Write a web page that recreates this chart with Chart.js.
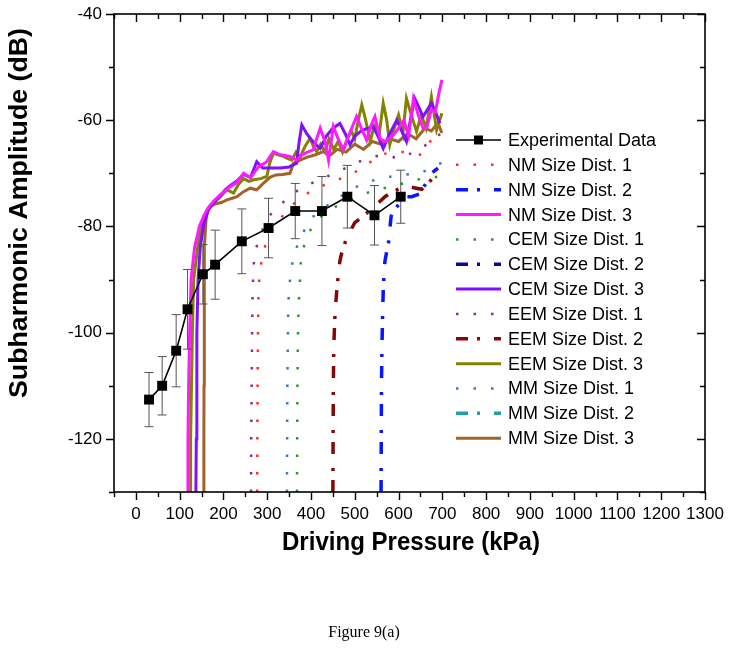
<!DOCTYPE html>
<html>
<head>
<meta charset="utf-8">
<script src="https://cdn.jsdelivr.net/npm/chart.js@4.4.0/dist/chart.umd.min.js"></script>
<style>
html, body { margin: 0; padding: 0; background: #fff; }
#wrap { width: 729px; height: 656px; }
</style>
</head>
<body>
<div id="wrap"><canvas id="chart" width="729" height="656"></canvas></div>
<script>
// tick labels
const xTicks = [0, 100, 200, 300, 400, 500, 600, 700, 800, 900, 1000, 1100, 1200, 1300];
const yTicks = [-120, -100, -80, -60, -40];

// experimental data (kPa, dB, +/- dB)
const expP = [30, 60, 92, 118, 153, 181, 242, 303, 364, 425, 483, 545, 605];
const expA = [-112.6, -110.0, -103.4, -95.6, -89.0, -87.2, -82.8, -80.3, -77.1, -77.1, -74.4, -77.9, -74.4];
const expErr = [5.1, 5.5, 6.8, 7.5, 5.6, 6.5, 6.1, 5.6, 5.2, 6.5, 5.9, 5.6, 5.0];

// simulations
const nm1P = [277, 277.5, 278, 279, 280, 282, 288, 299, 310, 322, 340, 356, 375, 398, 420, 440, 460, 482, 500, 520, 540, 557, 575, 592, 610, 630, 652, 672, 690, 700];
const nm1A = [-130, -120, -110, -100, -93, -89.4, -86, -82.5, -81, -79.4, -77.5, -76, -74.8, -73.4, -72.6, -71.8, -71.2, -70.6, -69.8, -68.8, -67.6, -66.5, -66.2, -65.9, -66, -66.3, -66.5, -64, -63, -62.5];

const nm2P = [560, 560.5, 561, 562, 563.5, 565, 567, 569, 573, 577, 580, 583, 588, 596, 603, 609, 630, 647, 668, 673, 690];
const nm2A = [-130, -120, -110, -103, -97, -92, -88.5, -86.5, -84.7, -83.1, -80.5, -78.1, -77.2, -76.3, -75.6, -74.4, -74.4, -73.9, -71.2, -70.1, -69];

const nm3P = [118, 119, 120.5, 122.8, 126, 134, 145, 155, 165, 178, 193, 208, 216, 230, 246, 262, 280, 299, 314, 330, 352, 367, 380, 392, 405, 413, 421, 432, 440, 451, 462, 474, 488, 504, 515, 527, 537, 546, 558, 570, 588, 600, 612, 623, 634, 645, 656, 664, 675, 684, 692, 699];
const nm3A = [-130, -120, -110, -100, -90, -84, -80, -78, -76.5, -75.2, -74, -73, -72.5, -71.8, -70, -70.8, -68.8, -67.8, -65.9, -66.5, -66.8, -67.5, -66.5, -66, -65.6, -63.5, -61.5, -64, -67.5, -61.2, -63.5, -65.6, -62.5, -59.3, -61.5, -63.7, -61, -59.3, -63.5, -64, -62.8, -61.5, -60, -63, -55.9, -59, -61.5, -61.5, -58, -58.5, -55, -52.4];

const cem1P = [368, 368.5, 369, 370, 371, 373, 375, 377, 381, 387, 396, 408, 425, 447, 470, 490, 510, 531, 550, 571, 590, 611, 632, 653, 675, 694];
const cem1A = [-130, -120, -110, -102, -97, -93, -89.7, -86.3, -84.5, -83, -81, -79.6, -78, -76.7, -75.7, -75, -74.3, -73.6, -73.1, -72.7, -72.3, -71.9, -71.4, -71, -70.8, -70.6];

const cem2P = [];
const cem2A = [];

const cem3P = [137, 138, 139, 139.5, 142, 147, 155, 165, 175, 190, 205, 216, 230, 246, 262, 276, 290, 300, 315, 330, 350, 367, 373, 379, 390, 398, 410, 421, 435, 450, 466, 478, 489, 500, 515, 530, 542, 553, 565, 580, 596, 607, 618, 627, 637, 646, 656, 666, 675, 685, 694];
const cem3A = [-130, -120, -110, -100, -90, -84, -79.5, -77, -75.8, -74.5, -73, -72.3, -71.5, -70.2, -70.8, -67.8, -69, -69, -69, -69, -68.8, -68.1, -64, -60.9, -62.5, -63.4, -64.5, -65.3, -63, -61.5, -60.6, -62.5, -64.6, -63, -62, -61.5, -61.2, -63, -65.3, -62.5, -60, -62, -64, -60, -55.9, -57.5, -59.3, -58, -56.8, -58.5, -60.6];

const eem1P = [263, 263.5, 264.5, 265.5, 266.5, 268, 270, 275, 280, 292, 305, 318, 330, 350, 371, 390, 409, 432, 451, 480, 500, 523, 540, 561, 580, 603, 620, 641, 660, 683, 698];
const eem1A = [-130, -120, -110, -100, -93, -89.5, -86, -84, -82.7, -80, -78, -76.8, -75.9, -74.5, -73.1, -72.3, -71.6, -70.8, -70, -69, -68, -67.5, -67, -66.5, -66.8, -67.2, -66.5, -65.9, -64.8, -63.2, -62.5];

const eem2P = [450, 450.5, 451, 452, 454, 456, 459, 462, 466, 470, 480, 490, 500, 520, 542, 556, 569, 590, 618, 635, 653, 675, 690];
const eem2A = [-130, -120, -110, -103, -98, -95, -92, -89.4, -86.5, -85, -82.5, -80.8, -79.3, -78, -76.5, -75.4, -74.4, -73.3, -72.4, -72.7, -73, -71.2, -70];

const eem3P = [124, 125, 127, 129, 132, 141, 150, 161, 166, 177, 193, 208, 223, 235, 246, 258, 269, 285, 299, 306, 314, 325, 337, 346, 356, 366, 375, 386, 398, 406, 413, 422, 432, 441, 452, 462, 472, 482, 492, 500, 508, 516, 525, 535, 545, 556, 565, 573, 580, 590, 600, 610, 618, 629, 641, 652, 663, 675, 687, 699];
const eem3A = [-130, -120, -110, -100, -90, -84, -80, -78, -76.6, -75.6, -74.4, -73.1, -73.7, -72, -71, -71.5, -71.2, -71, -70.6, -68, -66.2, -66.5, -66.8, -67.2, -67.5, -66, -67, -65, -63.4, -65, -65.9, -64.5, -66, -63.5, -65.5, -64, -66, -63.7, -62, -63.5, -60, -57.1, -60, -64, -61, -62.5, -56.8, -60, -64.6, -61.5, -59, -62.5, -55.9, -59, -62.1, -59, -61.5, -55.6, -61.8, -58.7];

const mm1P = [345, 345.5, 346, 347, 348, 350, 354, 362, 372, 379, 390, 403, 420, 444, 465, 485, 505, 527, 548, 569, 590, 610, 630, 649, 670, 690, 700];
const mm1A = [-130, -120, -110, -102, -95, -91.8, -88.4, -85, -83, -81.6, -80, -78.3, -77, -75.7, -74.5, -73.4, -72.5, -71.7, -71.2, -70.8, -70.5, -70.3, -70.1, -70, -69.2, -68.3, -68];

const mm2P = [];
const mm2A = [];

const mm3P = [155, 155.3, 155.6, 155.8, 156, 157, 160, 163, 168, 180, 195, 208, 220, 231, 245, 261, 276, 291, 307, 320, 335, 352, 360, 375, 390, 410, 428, 445, 460, 480, 500, 520, 540, 560, 580, 600, 620, 640, 660, 675, 690, 699];
const mm3A = [-130, -120, -110, -100, -90, -84, -79, -77, -76.3, -75.8, -75.5, -75, -74.7, -74.4, -73.5, -72.8, -73.1, -71.9, -70.7, -70.3, -70.2, -70, -68.1, -67.5, -67, -66.5, -65.9, -66.5, -65.5, -66, -64.5, -65.5, -64, -64.5, -63.5, -64, -62.5, -63.5, -61.5, -62, -60.5, -62.4];

const SANS = "'Liberation Sans', Arial, sans-serif";
const DOT = [2.5, 15];
const DASHDOT = [12, 9, 3, 14];

function pts(xs, ys) {
    return xs.map((x, i) => ({ x: x, y: ys[i] }));
}

function sim(label, xs, ys, color, dash, width) {
    return {
        label: label,
        data: pts(xs, ys),
        borderColor: color,
        backgroundColor: color,
        borderWidth: width,
        borderDash: dash,
        pointRadius: 0,
        tension: 0,
        fill: false
    };
}

const datasets = [
    {
        label: 'Experimental Data',
        data: pts(expP, expA),
        borderColor: '#000',
        backgroundColor: '#000',
        borderWidth: 1.6,
        borderDash: [],
        pointStyle: 'rect',
        pointRadius: 7,
        pointBorderWidth: 0,
        tension: 0,
        fill: false
    },
    sim('NM Size Dist. 1', nm1P, nm1A, '#ff2a2a', DOT, 2.5),
    sim('NM Size Dist. 2', nm2P, nm2A, '#0a14ff', DASHDOT, 3.5),
    sim('NM Size Dist. 3', nm3P, nm3A, '#ff1aff', [], 3),
    sim('CEM Size Dist. 1', cem1P, cem1A, '#259a25', DOT, 2.5),
    sim('CEM Size Dist. 2', cem2P, cem2A, '#0a0a8c', DASHDOT, 3.5),
    sim('CEM Size Dist. 3', cem3P, cem3A, '#8010ff', [], 3),
    sim('EEM Size Dist. 1', eem1P, eem1A, '#8e2a98', DOT, 2.5),
    sim('EEM Size Dist. 2', eem2P, eem2A, '#850808', DASHDOT, 3.5),
    sim('EEM Size Dist. 3', eem3P, eem3A, '#848200', [], 3),
    sim('MM Size Dist. 1', mm1P, mm1A, '#3c78c0', DOT, 2.5),
    sim('MM Size Dist. 2', mm2P, mm2A, '#20a0a0', DASHDOT, 3.5),
    sim('MM Size Dist. 3', mm3P, mm3A, '#a0642a', [], 3)
];

function fitText(ctx, text, x, y, w, rot) {
    ctx.save();
    ctx.translate(x, y);
    if (rot) ctx.rotate(rot);
    const m = ctx.measureText(text).width;
    ctx.scale(w / m, 1);
    ctx.fillText(text, 0, 0);
    ctx.restore();
}

// error bars, drawn just under the experimental line
const errorBars = {
    id: 'errorBars',
    beforeDatasetDraw(chart, args) {
        if (args.index !== 0) return;
        const ctx = chart.ctx, xs = chart.scales.x, ys = chart.scales.y;
        ctx.save();
        ctx.strokeStyle = '#555';
        ctx.lineWidth = 1;
        expP.forEach((p, i) => {
            const px = xs.getPixelForValue(p);
            const y1 = ys.getPixelForValue(expA[i] + expErr[i]);
            const y2 = ys.getPixelForValue(expA[i] - expErr[i]);
            ctx.beginPath();
            ctx.moveTo(px, y1); ctx.lineTo(px, y2);
            ctx.moveTo(px - 4.5, y1); ctx.lineTo(px + 4.5, y1);
            ctx.moveTo(px - 4.5, y2); ctx.lineTo(px + 4.5, y2);
            ctx.stroke();
        });
        ctx.restore();
    }
};

// white page, frame with ticks, titles, legend and caption
const decor = {
    id: 'decor',
    beforeDraw(chart) {
        const ctx = chart.ctx;
        ctx.save();
        ctx.fillStyle = '#fff';
        ctx.fillRect(0, 0, chart.width, chart.height);
        ctx.restore();
    },
    afterDraw(chart) {
        const ctx = chart.ctx, xs = chart.scales.x, ys = chart.scales.y;
        const { left, right, top, bottom } = chart.chartArea;
        ctx.save();
        ctx.strokeStyle = '#000';
        ctx.lineWidth = 1.6;
        ctx.strokeRect(left, top, right - left, bottom - top);

        ctx.lineWidth = 1.4;
        ctx.beginPath();
        for (let v = -50; v <= 1300; v += 50) {
            const px = Math.round(xs.getPixelForValue(v)) + 0.5;
            const len = v % 100 === 0 ? 8 : 5;
            ctx.moveTo(px, bottom); ctx.lineTo(px, bottom + len);
            ctx.moveTo(px, top); ctx.lineTo(px, top + len);
        }
        for (let v = -130; v <= -40; v += 10) {
            const py = Math.round(ys.getPixelForValue(v)) + 0.5;
            const len = v % 20 === 0 ? 8 : 5;
            ctx.moveTo(left, py); ctx.lineTo(left - len, py);
            ctx.moveTo(right, py); ctx.lineTo(right - len, py);
        }
        ctx.stroke();

        // axis titles
        ctx.fillStyle = '#000';
        ctx.textAlign = 'center';
        ctx.textBaseline = 'middle';
        ctx.font = 'bold 25px ' + SANS;
        fitText(ctx, 'Driving Pressure (kPa)', 411, 543, 258, 0);
        fitText(ctx, 'Subharmonic Amplitude (dB)', 20, 213, 370, -Math.PI / 2);

        // caption
        ctx.font = "16px 'Liberation Serif', 'Times New Roman', serif";
        ctx.fillText('Figure 9(a)', 364, 633);

        // legend
        const lx0 = 456, lx1 = 501, tx = 508;
        ctx.font = '18px ' + SANS;
        ctx.textAlign = 'left';
        chart.data.datasets.forEach((ds, i) => {
            const y = 140 + i * 24.85;
            ctx.save();
            ctx.strokeStyle = ds.borderColor;
            ctx.lineWidth = ds.borderWidth;
            ctx.setLineDash(ds.borderDash || []);
            ctx.beginPath();
            ctx.moveTo(lx0, y); ctx.lineTo(lx1, y);
            ctx.stroke();
            if (i === 0) {
                ctx.fillStyle = '#000';
                ctx.fillRect((lx0 + lx1) / 2 - 4.5, y - 4.5, 9, 9);
            }
            ctx.restore();
            ctx.fillText(ds.label, tx, y + 1);
        });
        ctx.restore();
    }
};

new Chart(document.getElementById('chart'), {
    type: 'line',
    data: { datasets: datasets },
    options: {
        responsive: false,
        animation: false,
        devicePixelRatio: 1,
        layout: { padding: { left: 0, right: 24, top: 14, bottom: 0 } },
        plugins: {
            legend: { display: false },
            tooltip: { enabled: false },
            title: { display: false }
        },
        scales: {
            x: {
                type: 'linear',
                min: -50,
                max: 1300,
                grid: { display: false, drawTicks: false },
                border: { display: false },
                afterBuildTicks: s => { s.ticks = xTicks.map(v => ({ value: v })); },
                afterFit: s => { s.height = 164; s.paddingLeft = 0; s.paddingRight = 0; },
                ticks: {
                    autoSkip: false,
                    maxRotation: 0,
                    padding: 12,
                    color: '#000',
                    font: { family: SANS, size: 17 },
                    callback: v => String(v)
                }
            },
            y: {
                type: 'linear',
                min: -130,
                max: -40,
                grid: { display: false, drawTicks: false },
                border: { display: false },
                afterBuildTicks: s => { s.ticks = yTicks.map(v => ({ value: v })); },
                afterFit: s => { s.width = 114; s.paddingTop = 0; s.paddingBottom = 0; },
                ticks: {
                    padding: 12,
                    color: '#000',
                    font: { family: SANS, size: 17 },
                    callback: v => String(v)
                }
            }
        }
    },
    plugins: [errorBars, decor]
});
</script>
</body>
</html>
